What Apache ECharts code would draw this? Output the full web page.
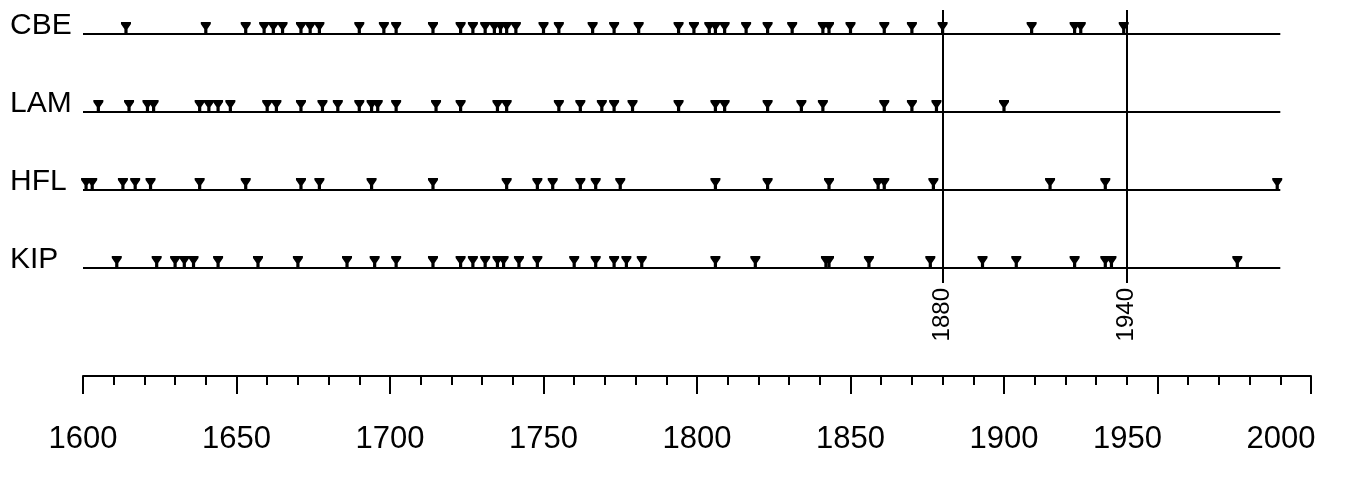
<!DOCTYPE html>
<html><head><meta charset="utf-8">
<script src="https://cdn.jsdelivr.net/npm/echarts@6/dist/echarts.min.js"></script>
<style>html,body{margin:0;padding:0;background:#fff}#c{width:1362px;height:486px}</style>
</head><body><div id="c"></div>
<script>
// ---- data ----
const rowNames = ['CBE', 'LAM', 'HFL', 'KIP'];
const cbeYears = [1614, 1640, 1653, 1659, 1662, 1665, 1671, 1674, 1677, 1690, 1698, 1702, 1714, 1723, 1727, 1731, 1734, 1736, 1738, 1741, 1750, 1755, 1766, 1773, 1781, 1794, 1799, 1804, 1806, 1809, 1816, 1823, 1831, 1841, 1843, 1850, 1861, 1870, 1880, 1909, 1923, 1925, 1939];
const lamYears = [1605, 1615, 1621, 1623, 1638, 1641, 1644, 1648, 1660, 1663, 1671, 1678, 1683, 1690, 1694, 1696, 1702, 1715, 1723, 1735, 1738, 1755, 1762, 1769, 1773, 1779, 1794, 1806, 1809, 1823, 1834, 1841, 1861, 1870, 1878, 1900];
const hflYears = [1601, 1603, 1613, 1617, 1622, 1638, 1653, 1671, 1677, 1694, 1714, 1738, 1748, 1753, 1762, 1767, 1775, 1806, 1823, 1843, 1859, 1861, 1877, 1915, 1933, 1989];
const kipYears = [1611, 1624, 1630, 1633, 1636, 1644, 1657, 1670, 1686, 1695, 1702, 1714, 1723, 1727, 1731, 1735, 1737, 1742, 1748, 1760, 1767, 1773, 1777, 1782, 1806, 1819, 1842, 1843, 1856, 1876, 1893, 1904, 1923, 1933, 1935, 1976];
const refYears = [1880, 1940];
const axisMin = 1600;
const axisMax = 2000;
const rowLineEnd = 1990;
const majorInterval = 50;

// ---- layout ----
const LEFT = 83;
const PX_PER_YEAR = 1228 / (axisMax - axisMin);
const rowsWidth = (rowLineEnd - axisMin) * PX_PER_YEAR;
const fullWidth = (axisMax - axisMin) * PX_PER_YEAR;
const FONT = 'Liberation Sans';
const markerPath = 'path://M0,0 L10,0 L10,2 L6.6,7 L6.6,12 L3.4,12 L3.4,7 L0,2 Z';

const rowData = [cbeYears, lamYears, hflYears, kipYears];

const chart = echarts.init(document.getElementById('c'));
const option = {
  animation: false,
  backgroundColor: '#fff',
  grid: [
    { left: LEFT, top: 34, width: rowsWidth, height: 234 },
    { left: LEFT, top: 10, width: fullWidth, height: 273 },
    { left: LEFT, top: 300, width: fullWidth, height: 76 }
  ],
  xAxis: [
    { gridIndex: 0, type: 'value', min: axisMin, max: rowLineEnd, show: false },
    { gridIndex: 1, type: 'value', min: axisMin, max: axisMax, show: false },
    { gridIndex: 2, type: 'value', min: axisMin, max: axisMax, interval: majorInterval, position: 'bottom',
      axisLine: { lineStyle: { color: '#000', width: 2 } },
      axisTick: { length: 18, lineStyle: { color: '#000', width: 2 } },
      minorTick: { show: true, splitNumber: 5, length: 9, lineStyle: { color: '#000', width: 2 } },
      splitLine: { show: false },
      axisLabel: { margin: 48, fontSize: 31, color: '#000', fontFamily: FONT,
        formatter: v => (v >= 1950 ? '{s|' + v + '}' : String(v)),
        rich: { s: { fontSize: 31, color: '#000', fontFamily: FONT, padding: [0, 60, 0, 0] } } } }
  ],
  yAxis: [
    { gridIndex: 0, type: 'category', data: rowNames, inverse: true, boundaryGap: false,
      axisLine: { show: false }, axisTick: { show: false },
      splitLine: { show: true, interval: 0, lineStyle: { color: '#000', width: 2 } },
      axisLabel: { interval: 0, margin: 73, align: 'left', verticalAlign: 'bottom', lineHeight: 17,
                   fontSize: 30, color: '#000', fontFamily: FONT } },
    { gridIndex: 1, type: 'value', min: 0, max: 1, show: false },
    { gridIndex: 2, type: 'value', min: 0, max: 1, show: false }
  ],
  series: rowData.map((years, i) => ({
    type: 'scatter', xAxisIndex: 0, yAxisIndex: 0, silent: true,
    symbol: markerPath, symbolSize: [10, 12], symbolOffset: [0, -6],
    itemStyle: { color: '#000', opacity: 1 },
    data: years.map(y => [y, rowNames[i]])
  })).concat([{
    type: 'scatter', xAxisIndex: 1, yAxisIndex: 1, silent: true, symbolSize: 0,
    itemStyle: { color: '#000', opacity: 1 },
    data: refYears.map(y => [y, 0]),
    label: { show: true, position: 'bottom', distance: 5, rotate: 90, align: 'right', verticalAlign: 'middle',
             fontSize: 24, color: '#000', fontFamily: FONT, formatter: p => String(p.value[0]) },
    markLine: {
      silent: true, symbol: ['none', 'none'], animation: false,
      lineStyle: { color: '#000', width: 2, type: 'solid' },
      label: { show: false },
      emphasis: { disabled: true },
      data: refYears.map(y => ({ xAxis: y }))
    }
  }])
};
chart.setOption(option);
</script>
</body></html>
